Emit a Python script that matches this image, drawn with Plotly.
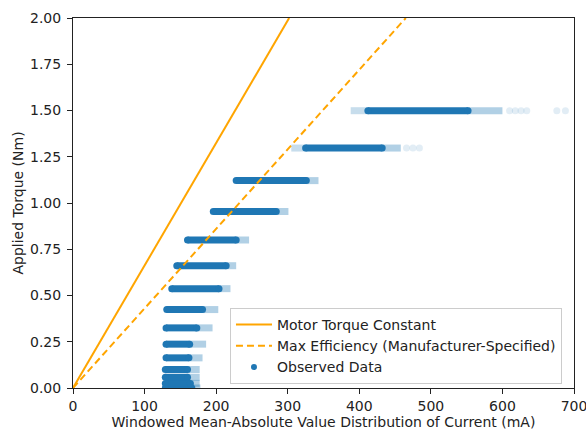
import plotly.graph_objects as go

# ---- data ----
# torque levels (Nm) of each observed band
torque_levels = [0.0, 0.025, 0.058, 0.10, 0.163, 0.237, 0.325, 0.424,
                 0.537, 0.661, 0.80, 0.954, 1.121, 1.297, 1.499]
# dense part of each band: current (mA) start / end (marker centres)
band_lo = [129, 129, 129, 129, 130, 130, 130, 131,
           138, 145, 160, 196, 228, 325, 412]
band_hi = [166, 164, 160, 160, 162, 163, 173, 181,
           204, 214, 228, 284, 326, 432, 552]
# faded continuation of each band (mA)
fade_lo = [129, 129, 129, 129, 130, 130, 130, 131,
           138, 145, 160, 196, 228, 305, 388]
fade_hi = [178, 177, 177, 177, 181, 186, 195, 203,
           220, 228, 246, 301, 343, 458, 600]
# isolated outliers on the two top bands
outlier_current = [466, 475, 484, 610, 618, 626, 634, 676, 688]
outlier_torque = [1.297, 1.297, 1.297, 1.499, 1.499, 1.499, 1.499, 1.499, 1.499]

# reference lines: current (mA) at which each line reaches 2.0 Nm
line_names = ["Motor Torque Constant", "Max Efficiency (Manufacturer-Specified)"]
line_current = [[0, 302], [0, 465]]
line_torque = [0.0, 2.0]

x_ticks = [0, 100, 200, 300, 400, 500, 600, 700]
y_ticks = [0.0, 0.25, 0.5, 0.75, 1.0, 1.25, 1.5, 1.75, 2.0]

BLUE = "31,119,180"
ORANGE = "#FFA500"
FONT = "DejaVu Sans"

fig = go.Figure()

def seg(xa, xb):
    xs, ys = [], []
    for a, b, t in zip(xa, xb, torque_levels):
        xs += [a, b, None]
        ys += [t, t, None]
    return xs, ys

# faded parts (left and right)
fx, fy = seg(fade_lo, band_lo)
fig.add_trace(go.Scatter(x=fx, y=fy, mode="lines", showlegend=False,
                         line=dict(color=f"rgba({BLUE},0.25)", width=7),
                         hoverinfo="skip"))
fx, fy = seg(band_hi, fade_hi)
fig.add_trace(go.Scatter(x=fx, y=fy, mode="lines", showlegend=False,
                         line=dict(color=f"rgba({BLUE},0.35)", width=7),
                         hoverinfo="skip"))
# dense parts
sx, sy = seg(band_lo, band_hi)
fig.add_trace(go.Scatter(x=sx, y=sy, mode="lines+markers", showlegend=False,
                         line=dict(color=f"rgb({BLUE})", width=7),
                         marker=dict(size=7, color=f"rgb({BLUE})"),
                         hoverinfo="skip"))
# outliers
fig.add_trace(go.Scatter(x=outlier_current, y=outlier_torque, mode="markers",
                         showlegend=False,
                         marker=dict(size=7, color=f"rgba({BLUE},0.13)"),
                         hoverinfo="skip"))
# legend entry for observed data
fig.add_trace(go.Scatter(x=[None], y=[None], mode="markers", name="Observed Data",
                         legendrank=3, legendgroup="c",
                         marker=dict(size=6, color=f"rgb({BLUE})")))

# reference lines (drawn on top)
dashes = ["solid", "7px,4px"]
for i, (name, xs) in enumerate(zip(line_names, line_current)):
    fig.add_trace(go.Scatter(x=xs, y=line_torque, mode="lines", name=name,
                             legendrank=i + 1, legendgroup="ab"[i],
                             line=dict(color=ORANGE, width=2, dash=dashes[i])))

axis_common = dict(showline=True, linecolor="#222", linewidth=1, mirror=True,
                   ticks="outside", ticklen=5, tickcolor="#222", showgrid=False,
                   zeroline=False, automargin=False, ticklabeloverflow="allow",
                   tickfont=dict(family=FONT, size=14, color="#222"))

fig.update_layout(
    width=586, height=431,
    margin=dict(l=73, r=12, t=18, b=43),
    paper_bgcolor="white", plot_bgcolor="white",
    font=dict(family=FONT, size=14, color="#222"),
    xaxis=dict(range=[0, 700], tickvals=x_ticks,
               title=dict(text="Windowed Mean-Absolute Value Distribution of Current (mA)",
                          standoff=3, font=dict(size=14)),
               **axis_common),
    yaxis=dict(range=[0, 2.0], tickvals=y_ticks, tickformat=".2f",
               ticklabelstandoff=3,
               title=dict(text="Applied Torque (Nm)", standoff=3, font=dict(size=14)),
               **axis_common),
    legend=dict(x=0.976, y=0.011, xanchor="right", yanchor="bottom",
                bgcolor="rgba(255,255,255,0.85)", bordercolor="#ccc", borderwidth=1,
                font=dict(family=FONT, size=14, color="#222"), traceorder="grouped",
                tracegroupgap=0, itemwidth=36),
)

# remove the default 8px page margin so the figure fills the window exactly
fig.write_html("out.html", config={"displayModeBar": False},
               post_script="document.body.style.margin='0px';")
